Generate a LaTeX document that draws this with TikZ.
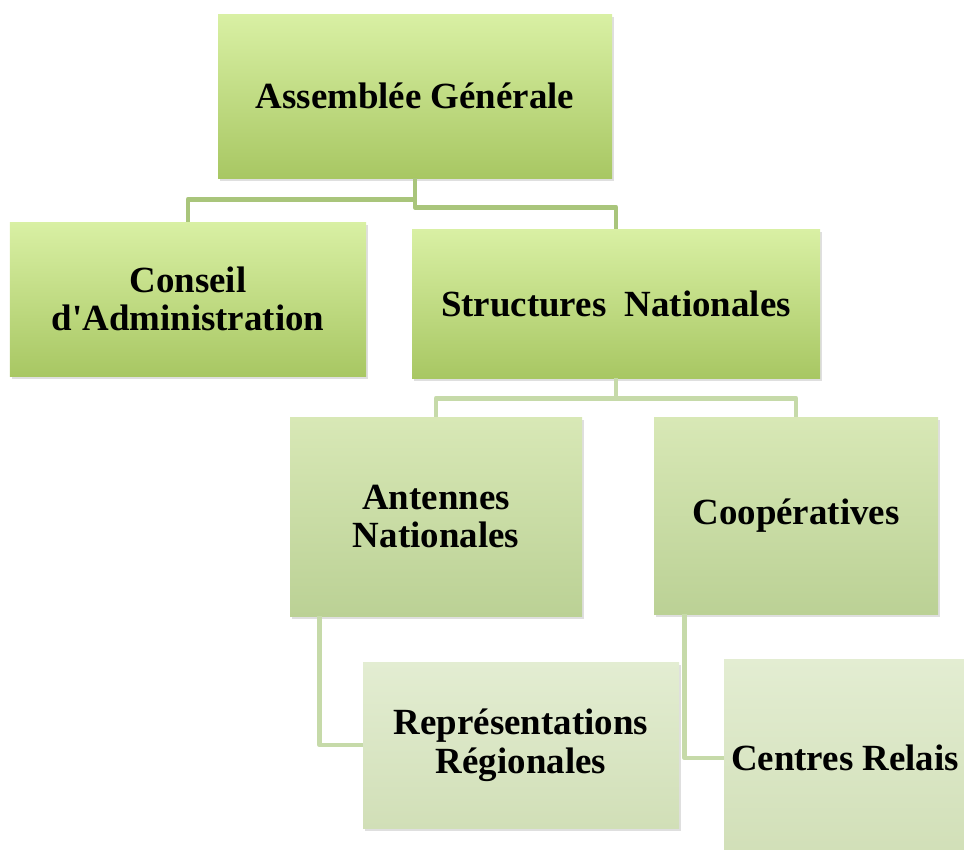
\documentclass[tikz,border=0pt]{standalone}
\usepackage{fontspec}
\setmainfont{Liberation Serif}
\usetikzlibrary{calc}
\usetikzlibrary{shadows}
\definecolor{topA}{HTML}{D9F0A4}
\definecolor{botA}{HTML}{A8C763}
\definecolor{topB}{HTML}{D8E8B6}
\definecolor{botB}{HTML}{BBD195}
\definecolor{topC}{HTML}{E3EDD2}
\definecolor{botC}{HTML}{D1DFB7}
\definecolor{linkA}{HTML}{A9C57B}
\definecolor{linkB}{HTML}{C6DAA9}
\tikzstyle{unit}=[rectangle,align=center,inner sep=0pt,font=\fontsize{21}{22}\selectfont\bfseries,
  drop shadow={shadow xshift=0.04cm,shadow yshift=-0.06cm,opacity=0.25}]
\tikzstyle{levelone}=[unit,top color=topA,bottom color=botA]
\tikzstyle{leveltwo}=[unit,top color=topB,bottom color=botB]
\tikzstyle{levelthree}=[unit,top color=topC,bottom color=botC]
\tikzstyle{link}=[line width=2.8pt,line join=round,linkA]
\tikzstyle{softlink}=[line width=2.8pt,line join=round,linkB]
\begin{document}
\begin{tikzpicture}
  \useasboundingbox (0,0) rectangle (19.28,-17);
  % boxes
  \node[levelone, minimum width=7.88cm, minimum height=3.28cm] (ag) at (8.30,-1.92) {Assemblée Générale};
  \node[levelone, minimum width=7.12cm, minimum height=3.08cm] (ca) at (3.76,-5.98) {Conseil\\d\textquotesingle Administration};
  \node[levelone, minimum width=8.16cm, minimum height=2.98cm] (sn) at (12.32,-6.07) {Structures~ Nationales};
  \node[leveltwo, minimum width=5.84cm, minimum height=3.98cm] (an) at (8.72,-10.33) {Antennes\\Nationales};
  \node[leveltwo, minimum width=5.68cm, minimum height=3.94cm] (coop) at (15.92,-10.31) {Coopératives};
  \node[levelthree, minimum width=6.32cm, minimum height=3.32cm] (rr) at (10.42,-14.90) {Représentations\\Régionales};
  \node[levelthree, minimum width=4.84cm, minimum height=3.96cm] (cr) at (16.90,-15.16) {Centres Relais};
  % top level links
  \draw[link] (ag.south) -- ++(0,-0.42) -| (ca.north);
  \draw[link] (ag.south) -- ++(0,-0.58) -| (sn.north);
  \draw[softlink] (sn.south) -- ++(0,-0.40) -| (an.north);
  \draw[softlink] (sn.south) -- ++(0,-0.40) -| (coop.north);
  % side links
  \draw[softlink] ($(an.south west)+(0.60,0)$) |- (rr.west);
  \draw[softlink] ($(coop.south west)+(0.62,0)$) |- (cr.west);
\end{tikzpicture}
\end{document}
